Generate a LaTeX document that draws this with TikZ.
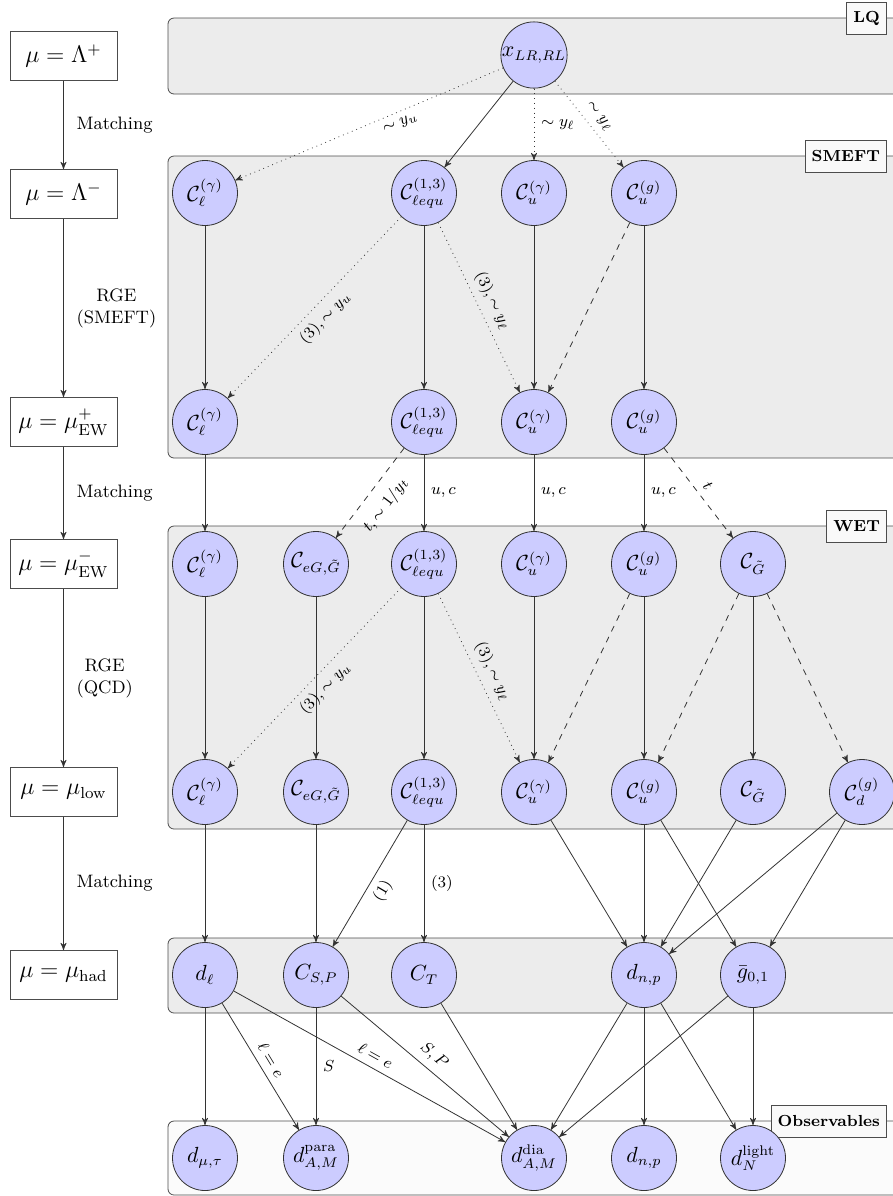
\documentclass[tikz,border=0pt]{standalone}
\usetikzlibrary{arrows}
\usepackage{amssymb}
\usepackage{amsmath}

\begin{document}
\begin{tikzpicture}[x=0.5pt, y=-0.5pt, >=stealth',
	coeff/.style={circle, draw=black!80, fill=blue!20, minimum size=32.5pt, inner sep=0pt, font=\fontsize{10.5}{12}\selectfont},
	scalebox/.style={draw=black!70, fill=white, minimum width=53.5pt, minimum height=24.5pt, font=\large},
	panel/.style={draw=black!70, fill=gray!15, rounded corners=3pt},
	panellabel/.style={draw=black!70, fill=gray!5, minimum height=16pt, font=\footnotesize\bfseries, anchor=east},
	steplabel/.style={midway, right, xshift=3pt, font=\small, align=center, text=black},
	elabel/.style={font=\footnotesize, text=black},
	solidedge/.style={->, draw=black!80},
	dottededge/.style={->, dotted, draw=black!80},
	dashededge/.style={->, dashed, draw=black!80}]
	\useasboundingbox (0,0) rectangle (893,1196);

	% Panels
	\draw[panel] (168,18) rectangle (910,94);
	\draw[panel] (168,156) rectangle (910,458);
	\draw[panel] (168,526) rectangle (910,829);
	\draw[panel] (168,938) rectangle (910,1013);
	\draw[panel, fill=gray!3] (168,1121) rectangle (910,1195);
	\node[panellabel] (lqlabel) at (887,18) {LQ};
	\node[panellabel] (smeftlabel) at (887,156) {SMEFT};
	\node[panellabel] (wetlabel) at (887,526) {WET};
	\node[panellabel] (obslabel) at (887,1121) {Observables};

	% Scales
	\begin{scope}
		\node[scalebox] (scalelqp) at (63.5,56) {$\mu = \Lambda^{+}$};
		\node[scalebox] (scalelqm) at (63.5,194) {$\mu = \Lambda^{-}$};
		\node[scalebox] (scaleewp) at (63.5,422) {$\mu = \mu_{\mathrm{EW}}^{+}$};
		\node[scalebox] (scaleewm) at (63.5,564) {$\mu = \mu_{\mathrm{EW}}^{-}$};
		\node[scalebox] (scalelow) at (63.5,792) {$\mu = \mu_{\mathrm{low}}$};
		\node[scalebox] (scalehad) at (63.5,975) {$\mu = \mu_{\mathrm{had}}$};
		\draw[solidedge] (scalelqp) -- (scalelqm) node[steplabel] {Matching};
		\draw[solidedge] (scalelqm) -- (scaleewp) node[steplabel] {RGE\\(SMEFT)};
		\draw[solidedge] (scaleewp) -- (scaleewm) node[steplabel] {Matching};
		\draw[solidedge] (scaleewm) -- (scalelow) node[steplabel] {RGE\\(QCD)};
		\draw[solidedge] (scalelow) -- (scalehad) node[steplabel] {Matching};
	\end{scope}

	% LQ
	\node[coeff] (lqx) at (534,55) {$x_{LR,RL}$};

	% SMEFT
	\node[coeff] (smefttopl) at (205,193) {$\mathcal{C}_{\ell}^{(\gamma)}$};
	\node[coeff] (smefttoplequ) at (424,193) {$\mathcal{C}_{\ell equ}^{(1,3)}$};
	\node[coeff] (smefttopua) at (534,193) {$\mathcal{C}_{u}^{(\gamma)}$};
	\node[coeff] (smefttopug) at (644,193) {$\mathcal{C}_{u}^{(g)}$};
	\node[coeff] (smeftbotl) at (205,422) {$\mathcal{C}_{\ell}^{(\gamma)}$};
	\node[coeff] (smeftbotlequ) at (424,422) {$\mathcal{C}_{\ell equ}^{(1,3)}$};
	\node[coeff] (smeftbotua) at (534,422) {$\mathcal{C}_{u}^{(\gamma)}$};
	\node[coeff] (smeftbotug) at (644,422) {$\mathcal{C}_{u}^{(g)}$};

	% WET
	\node[coeff] (wettopl) at (205,564) {$\mathcal{C}_{\ell}^{(\gamma)}$};
	\node[coeff] (wettopeg) at (316,564) {$\mathcal{C}_{eG,\tilde{G}}$};
	\node[coeff] (wettoplequ) at (424,564) {$\mathcal{C}_{\ell equ}^{(1,3)}$};
	\node[coeff] (wettopua) at (534,564) {$\mathcal{C}_{u}^{(\gamma)}$};
	\node[coeff] (wettopug) at (644,564) {$\mathcal{C}_{u}^{(g)}$};
	\node[coeff] (wettopgt) at (753,564) {$\mathcal{C}_{\tilde{G}}$};
	\node[coeff] (wetbotl) at (205,792) {$\mathcal{C}_{\ell}^{(\gamma)}$};
	\node[coeff] (wetboteg) at (316,792) {$\mathcal{C}_{eG,\tilde{G}}$};
	\node[coeff] (wetbotlequ) at (424,792) {$\mathcal{C}_{\ell equ}^{(1,3)}$};
	\node[coeff] (wetbotua) at (534,792) {$\mathcal{C}_{u}^{(\gamma)}$};
	\node[coeff] (wetbotug) at (644,792) {$\mathcal{C}_{u}^{(g)}$};
	\node[coeff] (wetbotgt) at (753,792) {$\mathcal{C}_{\tilde{G}}$};
	\node[coeff] (wetbotdg) at (862,792) {$\mathcal{C}_{d}^{(g)}$};

	% Hadronic
	\node[coeff] (hadl) at (205,975) {$d_{\ell}$};
	\node[coeff] (hadsp) at (316,975) {$C_{S,P}$};
	\node[coeff] (hadt) at (424,975) {$C_{T}$};
	\node[coeff] (hadnp) at (644,975) {$d_{n,p}$};
	\node[coeff] (hadg) at (753,975) {$\bar{g}_{0,1}$};

	% Observables
	\node[coeff] (obsmutau) at (205,1158) {$d_{\mu,\tau}$};
	\node[coeff] (obspara) at (316,1158) {$d_{A,M}^{\mathrm{para}}$};
	\node[coeff] (obsdia) at (534,1158) {$d_{A,M}^{\mathrm{dia}}$};
	\node[coeff] (obsnp) at (644,1158) {$d_{n,p}$};
	\node[coeff] (obsn) at (753,1158) {$d_{N}^{\mathrm{light}}$};

	% LQ to SMEFT
	\draw[dottededge] (lqx) -- (smefttopl) node[pos=0.4, sloped, below, elabel] {$\sim y_u$};
	\draw[solidedge] (lqx) -- (smefttoplequ);
	\draw[dottededge] (lqx) -- (smefttopua) node[midway, right, elabel] {$\sim y_\ell$};
	\draw[dottededge] (lqx) -- (smefttopug) node[midway, sloped, above, elabel] {$\sim y_\ell$};

	% RGE (SMEFT)
	\draw[solidedge] (smefttopl) -- (smeftbotl);
	\draw[solidedge] (smefttoplequ) -- (smeftbotlequ);
	\draw[dottededge] (smefttoplequ) -- (smeftbotl) node[midway, sloped, below, elabel] {$(3), \sim y_u$};
	\draw[dottededge] (smefttoplequ) -- (smeftbotua) node[midway, sloped, above, elabel] {$(3), \sim y_\ell$};
	\draw[solidedge] (smefttopua) -- (smeftbotua);
	\draw[dashededge] (smefttopug) -- (smeftbotua);
	\draw[solidedge] (smefttopug) -- (smeftbotug);

	% SMEFT to WET
	\draw[solidedge] (smeftbotl) -- (wettopl);
	\draw[dashededge] (smeftbotlequ) -- (wettopeg) node[midway, sloped, below=2.5pt, elabel] {$t, \sim 1/y_t$};
	\draw[solidedge] (smeftbotlequ) -- (wettoplequ) node[midway, right, elabel] {$u,c$};
	\draw[solidedge] (smeftbotua) -- (wettopua) node[midway, right, elabel] {$u,c$};
	\draw[solidedge] (smeftbotug) -- (wettopug) node[midway, right, elabel] {$u,c$};
	\draw[dashededge] (smeftbotug) -- (wettopgt) node[midway, sloped, above, elabel] {$t$};

	% RGE (QCD)
	\draw[solidedge] (wettopl) -- (wetbotl);
	\draw[solidedge] (wettopeg) -- (wetboteg);
	\draw[solidedge] (wettoplequ) -- (wetbotlequ);
	\draw[dottededge] (wettoplequ) -- (wetbotl) node[midway, sloped, below, elabel] {$(3), \sim y_u$};
	\draw[dottededge] (wettoplequ) -- (wetbotua) node[midway, sloped, above, elabel] {$(3), \sim y_\ell$};
	\draw[solidedge] (wettopua) -- (wetbotua);
	\draw[dashededge] (wettopug) -- (wetbotua);
	\draw[solidedge] (wettopug) -- (wetbotug);
	\draw[dashededge] (wettopgt) -- (wetbotug);
	\draw[solidedge] (wettopgt) -- (wetbotgt);
	\draw[dashededge] (wettopgt) -- (wetbotdg);

	% WET to hadronic
	\draw[solidedge] (wetbotl) -- (hadl);
	\draw[solidedge] (wetboteg) -- (hadsp);
	\draw[solidedge] (wetbotlequ) -- (hadsp) node[midway, sloped, below, elabel] {$(1)$};
	\draw[solidedge] (wetbotlequ) -- (hadt) node[midway, right, elabel] {$(3)$};
	\draw[solidedge] (wetbotua) -- (hadnp);
	\draw[solidedge] (wetbotug) -- (hadnp);
	\draw[solidedge] (wetbotug) -- (hadg);
	\draw[solidedge] (wetbotgt) -- (hadnp);
	\draw[solidedge] (wetbotdg) -- (hadnp);
	\draw[solidedge] (wetbotdg) -- (hadg);

	% Hadronic to observables
	\draw[solidedge] (hadl) -- (obsmutau);
	\draw[solidedge] (hadl) -- (obspara) node[midway, sloped, above, elabel] {$\ell = e$};
	\draw[solidedge] (hadl) -- (obsdia) node[midway, sloped, above, elabel] {$\ell = e$};
	\draw[solidedge] (hadsp) -- (obspara) node[midway, right, elabel] {$S$};
	\draw[solidedge] (hadsp) -- (obsdia) node[midway, sloped, above, elabel] {$S,P$};
	\draw[solidedge] (hadt) -- (obsdia);
	\draw[solidedge] (hadnp) -- (obsdia);
	\draw[solidedge] (hadnp) -- (obsnp);
	\draw[solidedge] (hadnp) -- (obsn);
	\draw[solidedge] (hadg) -- (obsdia);
	\draw[solidedge] (hadg) -- (obsn);
\end{tikzpicture}
\end{document}
